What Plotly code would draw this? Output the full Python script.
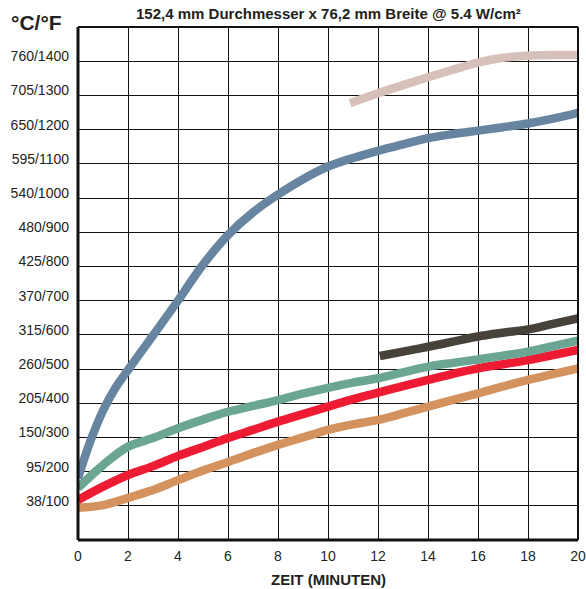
import plotly.graph_objects as go

# time in minutes
x_blue = [0, 0.5, 1, 1.5] + list(range(2, 21))
blue = [181, 290, 378, 445, 497, 598, 700, 805, 892, 958, 1010, 1055, 1092, 1117, 1138,
        1157, 1175, 1187, 1197, 1207, 1218, 1232, 1249]

x_std = list(range(0, 21))
teal = [152, 219, 273, 298, 327, 352, 375, 392, 409, 428, 445, 460, 473, 490, 507, 518,
        528, 539, 551, 567, 583]
red = [117, 156, 190, 216, 246, 272, 298, 322, 346, 368, 390, 412, 431, 450, 468, 486,
       502, 514, 526, 541, 556]
tan = [94, 102, 123, 146, 175, 203, 228, 254, 278, 300, 322, 338, 351, 370, 390, 410,
       429, 449, 468, 485, 502]

x_pink = [10.88, 12, 13, 14, 15, 16, 17, 18, 19, 20]
pink = [1277, 1306, 1330, 1353, 1375, 1396, 1410, 1416, 1418, 1418]

x_dark = [12.07, 13, 14, 15, 16, 17, 18, 19, 20]
dark = [538, 551, 565, 580, 595, 606, 616, 632, 648]

y_ticks = [100, 200, 300, 400, 500, 600, 700, 800, 900, 1000, 1100, 1200, 1300, 1400]
y_labels = ["38/100", "95/200", "150/300", "205/400", "260/500", "315/600", "370/700",
            "425/800", "480/900", "540/1000", "595/1100", "650/1200", "705/1300", "760/1400"]
x_ticks = list(range(0, 21, 2))

fig = go.Figure()
series = [
    (x_std, tan, "#D4925F"),
    (x_std, red, "#EE1C33"),
    (x_std, teal, "#6BA594"),
    (x_dark, dark, "#47423A"),
    (x_pink, pink, "#D8C0BA"),
    (x_blue, blue, "#6784A0"),
]
for xs, ys, c in series:
    fig.add_trace(go.Scatter(x=xs, y=ys, mode="lines",
                             line=dict(color=c, width=8.5, shape="spline", smoothing=1.0),
                             hoverinfo="skip", showlegend=False))

font_family = "Liberation Sans, Arial, sans-serif"
fig.update_layout(
    width=586, height=589,
    margin=dict(l=78, r=8, t=27, b=49),
    paper_bgcolor="white", plot_bgcolor="white",
    font=dict(family=font_family, color="#231F20", size=14),
    showlegend=False,
    xaxis=dict(range=[0, 20], tickvals=x_ticks, ticktext=[str(v) for v in x_ticks],
               showgrid=True, gridcolor="#111", gridwidth=1, zeroline=False,
               showline=False, ticks="", tickfont=dict(size=14), automargin=False,
               ticklabelstandoff=6, ticklabeloverflow="allow"),
    yaxis=dict(range=[0, 1500], tickvals=y_ticks, ticktext=y_labels,
               showgrid=True, gridcolor="#111", gridwidth=1, zeroline=False,
               showline=False, ticks="", tickfont=dict(size=14), automargin=False,
               ticklabelshift=-5, ticklabelstandoff=8),
)
# plot border: thick left/bottom, thinner top/right
fig.add_shape(type="line", xref="paper", yref="paper", x0=0, x1=0, y0=0, y1=1,
              line=dict(color="#111", width=3))
fig.add_shape(type="line", xref="paper", yref="paper", x0=0, x1=1, y0=0, y1=0,
              line=dict(color="#111", width=3))
fig.add_shape(type="line", xref="paper", yref="paper", x0=0, x1=1, y0=1, y1=1,
              line=dict(color="#111", width=2))
fig.add_shape(type="line", xref="paper", yref="paper", x0=1, x1=1, y0=0, y1=1,
              line=dict(color="#111", width=2))

fig.add_annotation(text="<b>152,4 mm Durchmesser x 76,2 mm Breite @ 5.4 W/cm²</b>",
                   xref="paper", yref="paper", x=0.5, y=1, yanchor="middle", yshift=14,
                   showarrow=False, font=dict(size=15))
fig.add_annotation(text="<b>°C/°F</b>", xref="paper", yref="paper", x=0, y=1,
                   xanchor="right", yanchor="middle", xshift=-14, yshift=5,
                   showarrow=False, font=dict(size=21))
fig.add_annotation(text="<b>ZEIT (MINUTEN)</b>", xref="paper", yref="paper", x=0.5, y=0,
                   yanchor="middle", yshift=-39, showarrow=False, font=dict(size=15))

# remove the browser's default body margin so the figure fills the window exactly
fig.write_html("out.html", config={"displayModeBar": False},
               post_script="document.body.style.margin='0';document.body.style.overflow='hidden';")
